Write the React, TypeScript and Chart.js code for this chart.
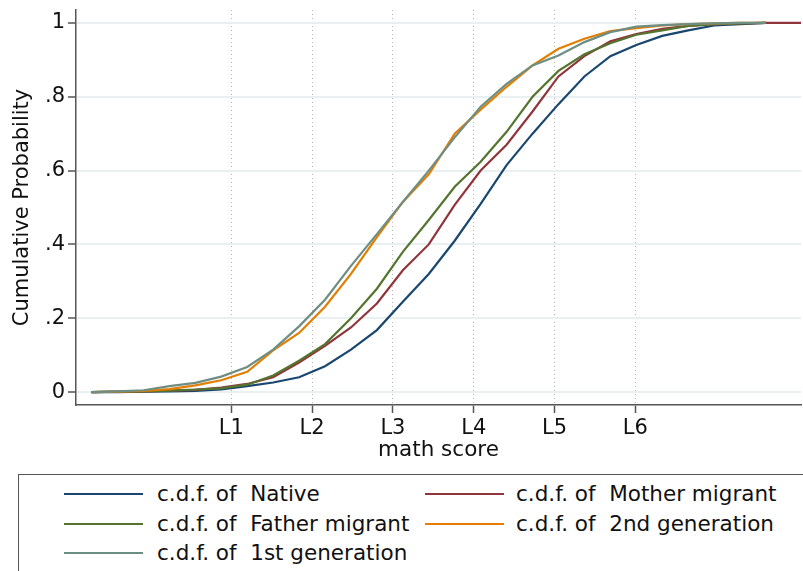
import React, { useEffect, useRef } from "react";
import { Chart, registerables } from "chart.js";

Chart.register(...registerables);

// math score grid at which each empirical c.d.f. was read
const scores = [250, 270, 290, 310, 330, 350, 370, 390, 410, 430, 450, 470, 490, 510, 530, 550, 570, 590, 610, 630, 650, 670, 690, 710, 730, 750, 770];

const nativeCdf = [0, 0, 0.001, 0.002, 0.003, 0.007, 0.016, 0.026, 0.04, 0.07, 0.115, 0.168, 0.245, 0.32, 0.41, 0.51, 0.615, 0.70, 0.78, 0.855, 0.91, 0.94, 0.965, 0.98, 0.993, 0.997, 1];
const motherCdf = [0, 0.001, 0.002, 0.004, 0.006, 0.012, 0.022, 0.04, 0.08, 0.125, 0.175, 0.24, 0.33, 0.40, 0.507, 0.60, 0.67, 0.76, 0.855, 0.91, 0.95, 0.97, 0.984, 0.992, 0.997, 0.999, 1];
const fatherCdf = [0, 0.001, 0.002, 0.004, 0.007, 0.01, 0.02, 0.045, 0.085, 0.13, 0.2, 0.28, 0.38, 0.466, 0.556, 0.624, 0.705, 0.80, 0.87, 0.915, 0.945, 0.968, 0.98, 0.992, 0.997, 0.999, 1];
const secondGenCdf = [0, 0.001, 0.003, 0.008, 0.018, 0.032, 0.055, 0.113, 0.16, 0.231, 0.32, 0.42, 0.515, 0.59, 0.70, 0.765, 0.827, 0.885, 0.93, 0.957, 0.978, 0.986, 0.993, 0.997, 0.999, 1, 1];
const firstGenCdf = [0, 0.002, 0.005, 0.016, 0.025, 0.042, 0.068, 0.115, 0.178, 0.25, 0.342, 0.428, 0.515, 0.60, 0.69, 0.773, 0.835, 0.885, 0.912, 0.948, 0.975, 0.99, 0.994, 0.997, 0.999, 1, 1];

// the mother-migrant curve reaches the right edge
const motherTailScores = [797];
const motherTailCdf = [1];

const seriesNames = ["Native", "Mother migrant", "Father migrant", "2nd generation", "1st generation"];
const seriesColors = ["#1a476f", "#90353b", "#55752f", "#e37e00", "#6e8e84"];

// PISA proficiency level cut-offs on the x axis
const levelCuts = [357.77, 420.07, 482.38, 544.68, 606.99, 669.3];
const levelLabels = ["L1", "L2", "L3", "L4", "L5", "L6"];

const yTicks = [0, 0.2, 0.4, 0.6, 0.8, 1];
const yTickLabels = ["0", ".2", ".4", ".6", ".8", "1"];

const FONT = "'DejaVu Sans', sans-serif";

export default function App() {
  const ref = useRef<HTMLCanvasElement | null>(null);

  useEffect(() => {
    document.body.style.margin = "0";
    const canvas = ref.current;
    if (!canvas) return;
    const all = [nativeCdf, motherCdf, fatherCdf, secondGenCdf, firstGenCdf];
    const datasets = all.map((vals, i) => {
      const pts = scores.map((s, k) => ({ x: s, y: vals[k] }));
      if (i === 1) motherTailScores.forEach((s, k) => pts.push({ x: s, y: motherTailCdf[k] }));
      return {
        label: "c.d.f. of  " + seriesNames[i],
        data: pts,
        borderColor: seriesColors[i],
        backgroundColor: seriesColors[i],
        borderWidth: 2.2,
        pointRadius: 0,
        tension: 0,
        fill: false,
        order: 4 - i,
      };
    });

    const chart = new Chart(canvas, {
      type: "line",
      data: { datasets },
      options: {
        animation: false,
        responsive: false,
        layout: { padding: { top: 10, right: 2, left: 0, bottom: 0 } },
        plugins: { legend: { display: false }, tooltip: { enabled: false } },
        scales: {
          x: {
            type: "linear",
            min: 238,
            max: 797,
            afterBuildTicks: (scale: any) => {
              scale.ticks = levelCuts.map((v) => ({ value: v }));
            },
            afterFit: (scale: any) => {
              scale.height = 65;
              scale.paddingLeft = 0;
              scale.paddingRight = 0;
            },
            ticks: {
              autoSkip: false,
              maxRotation: 0,
              padding: 3,
              color: "#111",
              font: { family: FONT, size: 21 },
              callback: (v: any) => {
                const idx = levelCuts.findIndex((c) => Math.abs(c - Number(v)) < 0.01);
                return idx >= 0 ? levelLabels[idx] : "";
              },
            },
            grid: {
              color: "#b5b5b5",
              lineWidth: 1,
              drawTicks: true,
              tickLength: 8,
              tickColor: "#555",
              tickWidth: 1.5,
              tickBorderDash: [],
            },
            border: { display: true, color: "#555", width: 1.5, dash: [1, 3] },
            title: {
              display: true,
              text: "math score",
              color: "#111",
              font: { family: FONT, size: 21.5 },
              padding: { top: 0, bottom: 7 },
            },
          },
          y: {
            type: "linear",
            min: -0.035,
            max: 1.035,
            afterBuildTicks: (scale: any) => {
              scale.ticks = yTicks.map((v) => ({ value: v }));
            },
            afterFit: (scale: any) => {
              scale.width = 76;
              scale.paddingTop = 0;
              scale.paddingBottom = 0;
            },
            ticks: {
              padding: 3,
              color: "#111",
              font: { family: FONT, size: 21 },
              callback: (v: any) => {
                const idx = yTicks.findIndex((t) => Math.abs(t - Number(v)) < 1e-6);
                return idx >= 0 ? yTickLabels[idx] : "";
              },
            },
            grid: {
              color: "#e8f0f2",
              lineWidth: 2,
              drawTicks: true,
              tickLength: 8,
              tickColor: "#555",
              tickWidth: 1.5,
            },
            border: { display: true, color: "#555", width: 1.5 },
            title: {
              display: true,
              text: "Cumulative Probability",
              color: "#111",
              font: { family: FONT, size: 21 },
              padding: { top: 10, bottom: 0 },
            },
          },
        },
      },
    });
    return () => chart.destroy();
  }, []);

  return (
    <div style={{ position: "relative", width: 803, height: 571, overflow: "hidden", background: "#fff", fontFamily: FONT }}>
      <canvas ref={ref} width={803} height={470} style={{ position: "absolute", left: 0, top: 0, width: 803, height: 470 }} />
      <div style={{ position: "absolute", left: 18, top: 474, width: 820, height: 120, border: "1px solid #555", boxSizing: "border-box" }} />
      {seriesNames.map((name, i) => {
        const col = i % 2;
        const row = Math.floor(i / 2);
        const cy = 494 + row * 29.5;
        return (
          <React.Fragment key={name}>
            <div style={{ position: "absolute", left: 64 + col * 361, top: cy - 1, width: 79, height: 2, background: seriesColors[i] }} />
            <div style={{ position: "absolute", left: 157 + col * 359, top: cy - 13, height: 26, lineHeight: "26px", fontSize: 21.5, color: "#111", whiteSpace: "pre" }}>
              {"c.d.f. of  " + name}
            </div>
          </React.Fragment>
        );
      })}
    </div>
  );
}
